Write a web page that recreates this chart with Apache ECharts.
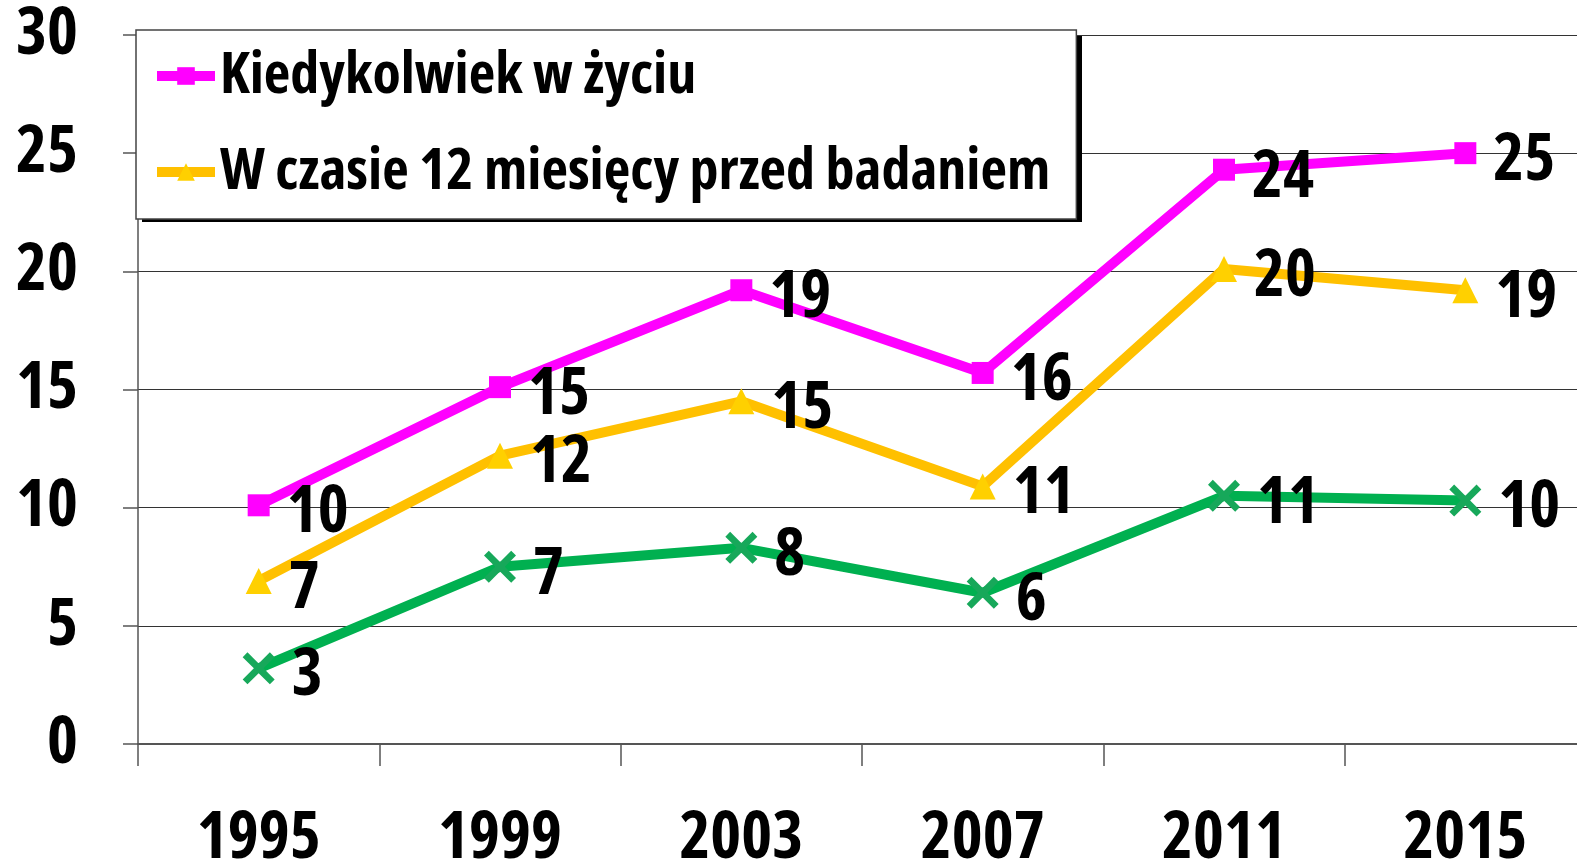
<!DOCTYPE html>
<html>
<head>
<meta charset="utf-8">
<script src="https://cdn.jsdelivr.net/npm/echarts@6/dist/echarts.min.js"></script>
<style>
  html, body { margin: 0; padding: 0; background: #fff; }
  #chart { width: 1577px; height: 862px; }
</style>
</head>
<body>
<div id="chart"></div>
<script>
// lata badania
const years = ["1995", "1999", "2003", "2007", "2011", "2015"];

// wartości (położenie punktów)
const everValues = [10.1, 15.1, 19.2, 15.7, 24.3, 25.0];
const yearValues = [6.9, 12.2, 14.5, 10.9, 20.1, 19.2];
const otherValues = [3.2, 7.5, 8.3, 6.4, 10.5, 10.3];

// etykiety danych (jak na oryginale)
const everLabels = [10, 15, 19, 16, 24, 25];
const yearLabels = [7, 12, 15, 11, 20, 19];
const otherLabels = [3, 7, 8, 6, 11, 10];

const yTicks = [0, 5, 10, 15, 20, 25, 30];

const FONT = '"Open Sans", "Roboto Condensed", sans-serif';
const WEIGHT = "bold condensed";
const crossPath = "path://M3,0 L10,7 L17,0 L20,3 L13,10 L20,17 L17,20 L10,13 L3,20 L0,17 L7,10 L0,3 Z";

function labelOf(arr) {
  return {
    show: true,
    position: "right",
    distance: 17,
    offset: [0, 8],
    color: "#000",
    fontFamily: FONT,
    fontWeight: WEIGHT,
    fontSize: 66,
    formatter: (p) => String(arr[p.dataIndex]),
  };
}

const chart = echarts.init(document.getElementById("chart"));
chart.setOption({
  animation: false,
  backgroundColor: "#fff",
  grid: {
    left: 138,
    top: 35,
    width: 1448,
    height: 709,
    containLabel: false,
    outerBoundsMode: "none",
  },
  // cień ramki legendy
  graphic: [
    {
      type: "rect",
      left: 142,
      top: 36,
      shape: { width: 940, height: 186 },
      style: { fill: "#000" },
      z: 3,
    },
  ],
  legend: {
    data: ["Kiedykolwiek w życiu", "W czasie 12 miesięcy przed badaniem"],
    orient: "vertical",
    left: 136,
    top: 30,
    padding: [17, 26, 18, 16],
    itemGap: 38,
    itemWidth: 58,
    itemHeight: 22,
    backgroundColor: "#fff",
    borderColor: "#444",
    borderWidth: 1.5,
    lineStyle: { width: 10 },
    z: 4,
    textStyle: {
      fontFamily: FONT,
      fontWeight: WEIGHT,
      fontSize: 58,
      color: "#000",
    },
  },
  xAxis: {
    type: "category",
    data: years,
    boundaryGap: true,
    axisLine: { show: true, lineStyle: { color: "#555", width: 2 } },
    axisTick: { show: true, length: 22, lineStyle: { color: "#555", width: 1.5 } },
    axisLabel: {
      margin: 62,
      color: "#000",
      fontFamily: FONT,
      fontWeight: WEIGHT,
      fontSize: 66,
    },
    splitLine: { show: false },
  },
  yAxis: {
    type: "value",
    min: yTicks[0],
    max: yTicks[yTicks.length - 1],
    interval: 5,
    axisLine: { show: true, lineStyle: { color: "#555", width: 1.5 } },
    axisTick: { show: true, length: 15, lineStyle: { color: "#555", width: 1.5 } },
    axisLabel: {
      margin: 60,
      color: "#000",
      fontFamily: FONT,
      fontWeight: WEIGHT,
      fontSize: 66,
    },
    splitLine: { show: true, lineStyle: { color: "#333", width: 1.2 } },
  },
  series: [
    {
      name: "Kiedykolwiek w życiu",
      type: "line",
      data: everValues,
      symbol: "rect",
      symbolSize: 22,
      lineStyle: { color: "#FF00FF", width: 10 },
      itemStyle: { color: "#FF00FF" },
      label: labelOf(everLabels),
      z: 2,
    },
    {
      name: "W czasie 12 miesięcy przed badaniem",
      type: "line",
      data: yearValues,
      symbol: "triangle",
      symbolSize: 26,
      lineStyle: { color: "#FFC000", width: 10 },
      itemStyle: { color: "#FFD000" },
      label: labelOf(yearLabels),
      z: 2,
    },
    {
      name: "Inne",
      type: "line",
      data: otherValues,
      symbol: crossPath,
      symbolSize: 32,
      lineStyle: { color: "#00B050", width: 10 },
      itemStyle: { color: "#17A85A" },
      label: labelOf(otherLabels),
      z: 2,
    },
  ],
});
</script>
</body>
</html>
